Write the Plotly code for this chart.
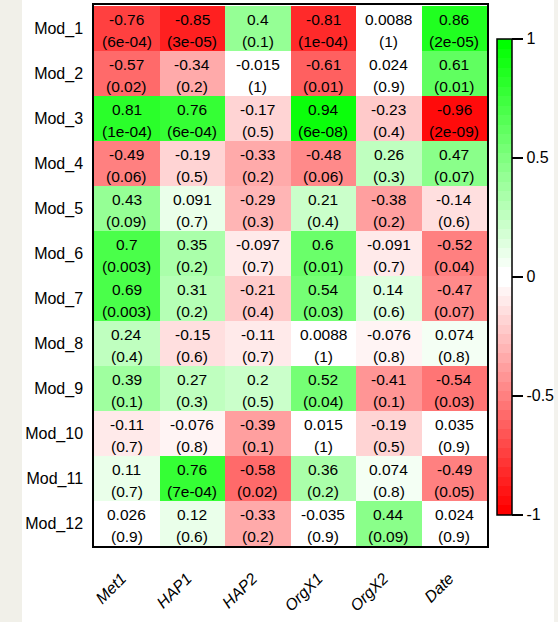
import plotly.graph_objects as go

traits = ["Met1", "HAP1", "HAP2", "OrgX1", "OrgX2", "Date"]
modules = ["Mod_1", "Mod_2", "Mod_3", "Mod_4", "Mod_5", "Mod_6",
           "Mod_7", "Mod_8", "Mod_9", "Mod_10", "Mod_11", "Mod_12"]

cor_mod_1 = [-0.76, -0.85, 0.4, -0.81, 0.0088, 0.86]
cor_mod_2 = [-0.57, -0.34, -0.015, -0.61, 0.024, 0.61]
cor_mod_3 = [0.81, 0.76, -0.17, 0.94, -0.23, -0.96]
cor_mod_4 = [-0.49, -0.19, -0.33, -0.48, 0.26, 0.47]
cor_mod_5 = [0.43, 0.091, -0.29, 0.21, -0.38, -0.14]
cor_mod_6 = [0.7, 0.35, -0.097, 0.6, -0.091, -0.52]
cor_mod_7 = [0.69, 0.31, -0.21, 0.54, 0.14, -0.47]
cor_mod_8 = [0.24, -0.15, -0.11, 0.0088, -0.076, 0.074]
cor_mod_9 = [0.39, 0.27, 0.2, 0.52, -0.41, -0.54]
cor_mod_10 = [-0.11, -0.076, -0.39, 0.015, -0.19, 0.035]
cor_mod_11 = [0.11, 0.76, -0.58, 0.36, 0.074, -0.49]
cor_mod_12 = [0.026, 0.12, -0.33, -0.035, 0.44, 0.024]

p_mod_1 = ["6e-04", "3e-05", "0.1", "1e-04", "1", "2e-05"]
p_mod_2 = ["0.02", "0.2", "1", "0.01", "0.9", "0.01"]
p_mod_3 = ["1e-04", "6e-04", "0.5", "6e-08", "0.4", "2e-09"]
p_mod_4 = ["0.06", "0.5", "0.2", "0.06", "0.3", "0.07"]
p_mod_5 = ["0.09", "0.7", "0.3", "0.4", "0.2", "0.6"]
p_mod_6 = ["0.003", "0.2", "0.7", "0.01", "0.7", "0.04"]
p_mod_7 = ["0.003", "0.2", "0.4", "0.03", "0.6", "0.07"]
p_mod_8 = ["0.4", "0.6", "0.7", "1", "0.8", "0.8"]
p_mod_9 = ["0.1", "0.3", "0.5", "0.04", "0.1", "0.03"]
p_mod_10 = ["0.7", "0.8", "0.1", "1", "0.5", "0.9"]
p_mod_11 = ["0.7", "7e-04", "0.02", "0.2", "0.8", "0.05"]
p_mod_12 = ["0.9", "0.6", "0.2", "0.9", "0.09", "0.9"]

cbar_ticks = [-1, -0.5, 0, 0.5, 1]
cbar_ticklabels = ["-1", "-0.5", "0", "0.5", "1"]

cor = [cor_mod_1, cor_mod_2, cor_mod_3, cor_mod_4, cor_mod_5, cor_mod_6,
       cor_mod_7, cor_mod_8, cor_mod_9, cor_mod_10, cor_mod_11, cor_mod_12]
pvals = [p_mod_1, p_mod_2, p_mod_3, p_mod_4, p_mod_5, p_mod_6,
         p_mod_7, p_mod_8, p_mod_9, p_mod_10, p_mod_11, p_mod_12]

# 50-step red-white-green palette (WGCNA style)
n = 50
half = n // 2
colors = []
for i in range(n):
    if i < half:
        t = i / (half - 1)
        r, g, b = 255, round(255 * t), round(255 * t)
    else:
        t = (n - 1 - i) / (half - 1)
        r, g, b = round(255 * t), 255, round(255 * t)
    colors.append(f"rgb({r},{g},{b})")
colorscale = []
for i, c in enumerate(colors):
    colorscale.append([i / n, c])
    colorscale.append([(i + 1) / n, c])

FONT = "Liberation Sans, Arial, sans-serif"

W, H = 558, 622
L, R, T, B = 94, 71, 5, 76
pw = W - L - R
ph = H - T - B

fig = go.Figure()
fig.add_trace(go.Heatmap(
    z=cor, x=traits, y=modules,
    zmin=-1, zmax=1, colorscale=colorscale,
    xgap=0, ygap=0, hoverinfo="skip",
    colorbar=dict(
        thickness=15, thicknessmode="pixels",
        len=476, lenmode="pixels",
        x=(497 - L) / pw, xanchor="left", xpad=0,
        y=(H - B - 276.5) / ph, yanchor="middle", ypad=0,
        outlinecolor="black", outlinewidth=1.5,
        ticks="outside", ticklen=11, tickwidth=1.5, tickcolor="black",
        tickvals=cbar_ticks, ticktext=cbar_ticklabels,
        tickfont=dict(family=FONT, size=16, color="black"),
    ),
))

annotations = []
for ri, mod in enumerate(modules):
    for ci, tr in enumerate(traits):
        annotations.append(dict(
            x=tr, y=mod, xref="x", yref="y", text=f"{cor[ri][ci]:g}",
            showarrow=False, yshift=9,
            font=dict(family=FONT, size=15.5, color="black")))
        annotations.append(dict(
            x=tr, y=mod, xref="x", yref="y", text=f"({pvals[ri][ci]})",
            showarrow=False, yshift=-13,
            font=dict(family=FONT, size=15.5, color="black")))

shapes = [
    dict(type="rect", xref="paper", yref="paper",
         x0=-L / pw, x1=(22 - L) / pw,
         y0=-B / ph, y1=(H - B) / ph,
         fillcolor="#f1f0e9", line=dict(width=0), layer="below"),
    dict(type="rect", xref="paper", yref="paper",
         x0=(W - 4 - L) / pw, x1=(W - L) / pw,
         y0=-B / ph, y1=(H - B) / ph,
         fillcolor="#f3f2ed", line=dict(width=0), layer="below"),
]

fig.update_layout(
    width=W, height=H,
    margin=dict(l=L, r=R, t=T, b=B, autoexpand=False),
    paper_bgcolor="white", plot_bgcolor="white",
    annotations=annotations, shapes=shapes,
    xaxis=dict(
        showline=True, linecolor="black", linewidth=1.5, mirror=True,
        ticks="outside", ticklen=15, tickcolor="rgba(0,0,0,0)",
        tickangle=-45, automargin=False, ticklabelshift=-5,
        tickfont=dict(family=FONT, size=16, color="black", style="italic"),
        showgrid=False, zeroline=False, fixedrange=True,
    ),
    yaxis=dict(
        showline=True, linecolor="black", linewidth=1.5, mirror=True,
        autorange="reversed", automargin=False,
        ticks="outside", ticklen=6, tickcolor="rgba(0,0,0,0)",
        tickfont=dict(family=FONT, size=16, color="black"),
        showgrid=False, zeroline=False, fixedrange=True,
    ),
)

fig.write_html(
    "out.html",
    config={"displayModeBar": False},
    post_script="document.body.style.margin='0';document.body.style.overflow='hidden';",
)
